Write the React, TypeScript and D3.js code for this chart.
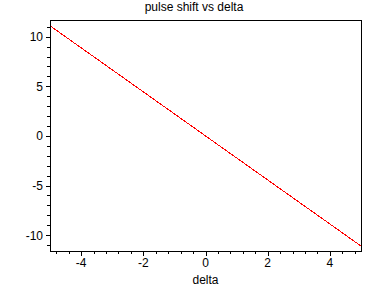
import React from "react";
import * as d3 from "d3";

const title = "pulse shift vs delta";
const xLabel = "delta";
const deltas = [-5, -4, -3, -2, -1, 0, 1, 2, 3, 4, 5];
const shifts = [11.1, 8.88, 6.66, 4.44, 2.22, 0, -2.22, -4.44, -6.66, -8.88, -11.1];
const xTicks = [-4, -2, 0, 2, 4];
const yTicks = [-10, -5, 0, 5, 10];

const W = 388;
const H = 288;
const L = 50, R = 361, T = 20, B = 251;

export default function App() {
  const x = d3.scaleLinear().domain([-5, 5]).range([L, R]);
  const y = d3.scaleLinear().domain([-11.6, 11.68]).range([B, T]);
  const pts = deltas.map((d, i) => [d, shifts[i]] as [number, number]);
  const line = d3.line<[number, number]>().x(d => x(d[0])).y(d => y(d[1]));

  const xMinor: number[] = [];
  for (let i = -12; i <= 12; i++) {
    const v = i * 0.4;
    if (v >= -5 && v <= 5 && !xTicks.some(t => Math.abs(t - v) < 1e-6)) xMinor.push(v);
  }
  const yMinor: number[] = [];
  for (let v = -11; v <= 11; v++) {
    if (!yTicks.includes(v)) yMinor.push(v);
  }
  const font = "'Liberation Sans', Arial, sans-serif";
  const px = (v: number) => Math.round(v) + 0.5;

  return (
    <svg width={W} height={H} style={{ position: "absolute", left: 0, top: 0, background: "#fff" }}>
      <rect x={0} y={0} width={W} height={H} fill="#fff" />
      <text x={W / 2} y={11} textAnchor="middle" fontFamily={font} fontSize={12} fill="#000">{title}</text>
      <path d={line(pts) || ""} fill="none" stroke="#ff0000" strokeWidth={1} shapeRendering="crispEdges" />
      <g shapeRendering="crispEdges" stroke="#000" strokeWidth={1}>
        <rect x={L + 0.5} y={T + 0.5} width={R - L} height={B - T} fill="none" />
        {xTicks.map(t => (
          <line key={"xt" + t} x1={px(x(t))} x2={px(x(t))} y1={B} y2={B + 5} />
        ))}
        {xMinor.map(t => (
          <line key={"xm" + t} x1={px(x(t))} x2={px(x(t))} y1={B} y2={B + 3} />
        ))}
        {yTicks.map(t => (
          <line key={"yt" + t} y1={px(y(t))} y2={px(y(t))} x1={L - 4} x2={L} />
        ))}
        {yMinor.map(t => (
          <line key={"ym" + t} y1={px(y(t))} y2={px(y(t))} x1={L - 3} x2={L} />
        ))}
      </g>
      {xTicks.map(t => (
        <text key={"xl" + t} x={x(t)} y={267} textAnchor="middle" fontFamily={font} fontSize={12} fill="#000">{t < 0 ? "-" + Math.abs(t) : String(t)}</text>
      ))}
      {yTicks.map(t => (
        <text key={"yl" + t} x={43} y={y(t) + 4.5} textAnchor="end" fontFamily={font} fontSize={12} fill="#000">{t < 0 ? "-" + Math.abs(t) : String(t)}</text>
      ))}
      <text x={(L + R) / 2} y={284} textAnchor="middle" fontFamily={font} fontSize={12} fill="#000">{xLabel}</text>
    </svg>
  );
}
